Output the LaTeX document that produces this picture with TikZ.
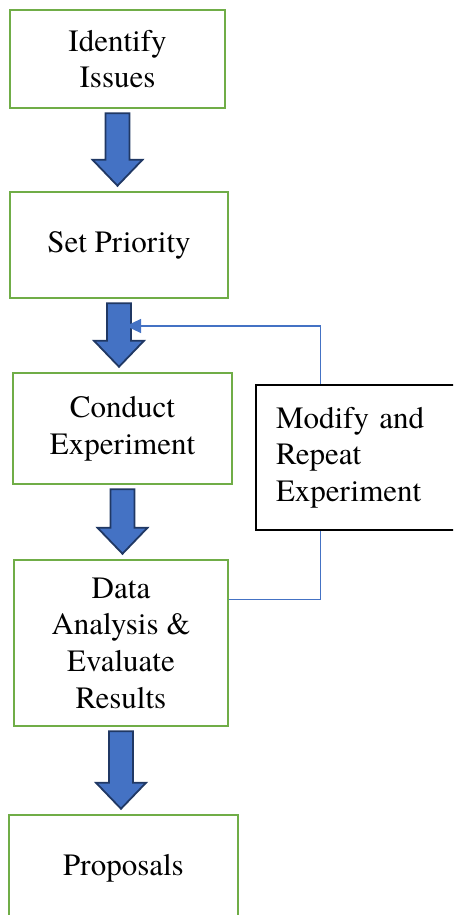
\documentclass[tikz,border=0pt]{standalone}
\usepackage{fontspec}
\setmainfont{TeX Gyre Termes}
\usetikzlibrary{calc, arrows.meta}
\definecolor{stepgreen}{HTML}{70AD47}
\definecolor{flowblue}{HTML}{4472C4}
\definecolor{flownavy}{HTML}{203864}
\tikzset{>=stealth,
  stepbox/.style={draw=stepgreen, line width=2.5pt, fill=white, align=center, inner sep=0pt},
  notebox/.style={draw=black, line width=1.4pt, fill=white, align=left, inner xsep=20pt},
  fatarrow/.style={draw=flownavy, fill=flowblue, line width=1.8pt, line join=miter},
  loopline/.style={draw=flowblue, line width=1.2pt, -{Triangle[length=15pt,width=14pt]}}}
\newcommand{\flowarrow}[2]{%
  \draw[fatarrow] let \p1=(#1.south), \p2=(#2.north) in
    (\x1-12pt,\y1-4pt) -- (\x1+12pt,\y1-4pt) -- (\x1+12pt,\y2+31pt) -- (\x1+25pt,\y2+31pt)
    -- (\x1,\y2+5pt) -- (\x1-25pt,\y2+31pt) -- (\x1-12pt,\y2+31pt) -- cycle;}

\begin{document}
\begin{tikzpicture}[x=1pt, y=-1pt, font=\fontsize{31}{36.7}\selectfont]
    \useasboundingbox (0,0) rectangle (453,915);
    \clip (0,0) rectangle (453,915);
    % steps
    \node[stepbox, minimum width=215pt, minimum height=98pt] (issues) at (117.5,59) {Identify\\Issues};
    \node[stepbox, minimum width=218pt, minimum height=106pt] (priority) at (119,245) {Set Priority};
    \node[stepbox, minimum width=219pt, minimum height=111pt] (conduct) at (122.5,428.5) {Conduct\\Experiment};
    \node[stepbox, minimum width=214pt, minimum height=166pt] (analysis) at (121,643) {Data\\Analysis \&\\Evaluate\\Results};
    \node[stepbox, minimum width=229pt, minimum height=106pt] (proposals) at (123.5,868) {Proposals};
    \flowarrow{issues}{priority}
    \flowarrow{priority}{conduct}
    \flowarrow{conduct}{analysis}
    \flowarrow{analysis}{proposals}
    % feedback loop
    \coordinate (looptap) at ($(analysis.north east)!0.24!(analysis.south east)$);
    \coordinate (loopend) at (126,326);
    \draw[loopline] (looptap) -- ++(91,0) |- (loopend);
    \node[notebox, text width=174pt, minimum height=145pt] (modify) at (363,457.5) {Modify and\\Repeat\\Experiment};
\end{tikzpicture}
\end{document}
